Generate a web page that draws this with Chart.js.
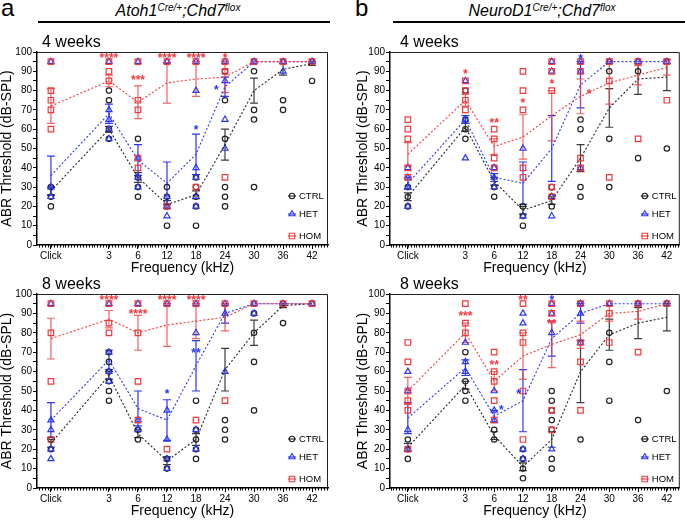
<!DOCTYPE html>
<html>
<head>
<meta charset="utf-8">
<script src="https://cdn.jsdelivr.net/npm/chart.js@4.4.0/dist/chart.umd.min.js"></script>
<style>
body { margin:0; width:685px; height:522px; background:#fff; position:relative; overflow:hidden; font-family:'Liberation Sans', Arial, sans-serif; }
canvas { position:absolute; }
.lbl { position:absolute; font-size:24px; line-height:24px; }
.ttl { position:absolute; width:300px; text-align:center; font-size:16px; line-height:16px; font-style:italic; white-space:nowrap; }
.ttl sup { font-size:10px; line-height:0; vertical-align:5px; }
.rule { position:absolute; height:1.5px; background:#000; }
</style>
</head>
<body>
<div class="lbl" style="left:1px;top:-4px">a</div>
<div class="ttl" style="left:28px;top:3px">Atoh1<sup>Cre/+</sup>;Chd7<sup>flox</sup></div>
<div class="rule" style="left:38px;top:21px;width:292px"></div>
<div class="lbl" style="left:355px;top:-4px">b</div>
<div class="ttl" style="left:392px;top:3px">NeuroD1<sup>Cre/+</sup>;Chd7<sup>flox</sup></div>
<div class="rule" style="left:393px;top:21px;width:292px"></div>

<canvas id="a4" width="340" height="247" style="left:0;top:30px"></canvas>
<canvas id="b4" width="329" height="247" style="left:356px;top:30px"></canvas>
<canvas id="a8" width="340" height="248" style="left:0;top:272px"></canvas>
<canvas id="b8" width="329" height="248" style="left:356px;top:272px"></canvas>

<script>
Chart.defaults.font.family = "'Liberation Sans', Arial, sans-serif";
Chart.defaults.color = '#000';

const freqs = ['Click', '3', '6', '12', '18', '24', '30', '36', '42'];
// axis slot of each frequency, slot 1 stays empty after Click
const slots = [0, 2, 3, 4, 5, 6, 7, 8, 9];

// a, 4 weeks
const a4Ctrl = [[30,25,20],[80,75,60,55],[55,35,30,25],[30,25,20,10],[35,30,25,20,10],[90,75,55,30,25,20],[95,90,70,65,30],[95,75,70],[95,85]];
const a4CtrlMean = [28, 60, 35, 21, 26, 52, 80, 91, 94];
const a4CtrlSem = [2, 1.5, 2.5, 2, 2, 8, 6.5, 3, 1];
const a4Het = [[95,30,25],[95,70,65,60,55],[95,45,35,30],[95,25,20,15],[95,80,40,35,25,20],[95,85,65,50],[95],[95,90],[95]];
const a4HetMean = [36, 68, 44, 32, 47, 82, 95, 95, 95];
const a4HetSem = [10, 5, 8, 11, 10.5, 5, 0, 0, 0];
const a4Hom = [[95,80,75,70,60],[95,90,85],[95,75,70,45,40],[95,20],[95,30],[95,90,35],[95],[95],[95]];
const a4HomMean = [72, 85, 74, 84, 86, 87, 95, 95, 95];
const a4HomSem = [9, 3, 8.5, 10.5, 9, 8, 0, 0, 0];
const a4Stars = [['3',98.5,'****','hom'],['6',87,'***','hom'],['12',98.5,'****','hom'],['18',98.5,'****','hom'],['24',98.5,'*','hom'],['18',61,'*','het'],['24',82,'*','het',-0.3]];

// b, 4 weeks
const b4Ctrl = [[30,25,20],[80,65,60,55],[40,30,25],[20,15,10],[30,25,20],[65,60,30,25],[95,90,55,30],[95,90,45],[95,50]];
const b4CtrlMean = [25, 61, 33, 18, 23, 45, 71, 86, 87];
const b4CtrlSem = [2, 2, 2, 2, 2, 7, 10, 8, 7];
const b4Het = [[40,35,30,20],[85,65,45],[40,35,30],[50,15],[95,90,25,15],[95,90,40],[95],[95],[95]];
const b4HetMean = [32, 65, 35, 32, 50, 83, 95, 95, 95];
const b4HetSem = [3, 2, 2, 11, 17, 12, 0, 0, 0];
const b4Hom = [[65,60,55,40,35],[85,80,75,70],[60,55,45,40],[90,80,70,40,35],[95,90,80,30,25],[95,90,45,40],[95,85,35],[95,55],[95,75]];
const b4HomMean = [47, 75, 51, 56, 67, 77, 84, 88, 92];
const b4HomSem = [6, 3, 4, 11.5, 13, 9, 11, 5, 4];
const b4Stars = [['3',90,'*','hom'],['6',65,'**','hom'],['12',75,'*','hom'],['18',85,'*','hom'],['24',80,'*','hom',0.3],['24',98,'*','het']];

// a, 8 weeks
const a8Ctrl = [[25,20],[70,65,60,55,50,45],[30,25],[15,10],[45,30,25,20,15],[35,30,25],[95,90,80,65,40],[95,85],[95]];
const a8CtrlMean = [23, 58, 28, 14, 25, 61, 80, 94, 95];
const a8CtrlSem = [2, 2, 2, 2, 3, 11, 6.5, 1, 0];
const a8Het = [[95,35,30,20,15],[95,70,60,55],[95,35,30],[95,40,25,15,10],[95,80,30,20],[95,90,60],[95,90],[95],[95]];
const a8HetMean = [35, 66, 41, 35, 63, 90, 95, 95, 95];
const a8HetSem = [9, 5, 9, 10.5, 13, 5, 0, 0, 0];
const a8Hom = [[95,80,55,25],[95,85,80],[95,80,55,35],[95,20],[95,35],[95,45],[95],[95],[95]];
const a8HomMean = [77, 87, 80, 84, 86, 88, 95, 95, 95];
const a8HomSem = [10.5, 4.5, 9, 11, 9, 7, 0, 0, 0];
const a8Stars = [['3',98.5,'****','hom'],['6',91,'****','hom'],['12',98.5,'****','hom'],['18',98.5,'****','hom'],['12',50,'*','het'],['18',71,'**','het']];

// b, 8 weeks
const b8Ctrl = [[25,20,15],[70,55,50,45],[30,25],[20,15,10,5],[50,45,40,35,30,15,10],[95,25],[80,65,45],[95,35],[95,50]];
const b8CtrlMean = [21, 53, 27, 11, 25, 60, 79, 85, 88];
const b8CtrlSem = [2, 2, 2, 2, 4, 16, 8, 8, 7];
const b8Het = [[60,50,30,20],[75,65,60],[50,40,35],[90,85,20,15],[95,90,80,20],[95,90,75],[95],[95],[95]];
const b8HetMean = [36, 62, 37, 45, 77, 90, 95, 95, 95];
const b8HetSem = [8, 4, 3, 16, 9, 5, 0, 0, 0];
const b8Hom = [[75,65,50,45,40,20],[95,85,80],[70,60,55,45,35],[95,80,75,50,25],[95,90,40,30],[95,75,65,40],[95,90,75],[95,70],[95]];
const b8HomMean = [50, 80, 55, 68, 74, 79, 90, 91, 95];
const b8HomSem = [7, 5, 5, 12, 12, 7, 4, 4, 0];
const b8Stars = [['3',90,'***','hom'],['6',65,'**','hom'],['12',98.5,'**','hom'],['18',86,'**','hom'],['18',98.5,'*','het'],['6',42,'*','het',0.25],['12',50,'*','het',-0.15]];

const RED = '#f2383b', BLUE = '#2a36f4', BLACK = '#222';
const groups = {
  ctrl: { color: BLACK, bar: '#3c3c3c', style: 'circle', radius: 2.7, label: 'CTRL' },
  het: { color: BLUE, bar: BLUE, style: 'triangle', radius: 3.5, label: 'HET' },
  hom: { color: RED, bar: 'rgba(236,70,72,0.85)', style: 'rect', radius: 3.9, label: 'HOM' }
};

function pointsOf(list) {
  const out = [];
  list.forEach((vals, i) => vals.forEach(v => out.push({ x: slots[i], y: v })));
  return out;
}
function meansOf(list) {
  return list.map((v, i) => ({ x: slots[i], y: v }));
}

const deco = {
  id: 'deco',
  beforeDatasetsDraw(chart) {
    const { ctx, scales: { x, y } } = chart;
    ctx.save();
    ctx.lineWidth = 1.2;
    chart.data.datasets.forEach(ds => {
      if (!ds.errors) return;
      ctx.strokeStyle = ds.barColor;
      ds.data.forEach((pt, i) => {
        const e = ds.errors[i];
        if (!e) return;
        const px = x.getPixelForValue(pt.x);
        const y1 = y.getPixelForValue(Math.min(pt.y + e, 100));
        const y2 = y.getPixelForValue(pt.y - e);
        ctx.beginPath();
        ctx.moveTo(px, y1); ctx.lineTo(px, y2);
        ctx.moveTo(px - 4, y1); ctx.lineTo(px + 4, y1);
        ctx.moveTo(px - 4, y2); ctx.lineTo(px + 4, y2);
        ctx.stroke();
      });
    });
    ctx.restore();
  },
  afterDatasetsDraw(chart, args, opts) {
    const { ctx, scales: { x, y } } = chart;
    ctx.save();
    ctx.font = 'bold 12px "Liberation Sans", Arial, sans-serif';
    ctx.textAlign = 'center';
    ctx.textBaseline = 'alphabetic';
    opts.stars.forEach(s => {
      const px = x.getPixelForValue(slots[freqs.indexOf(s[0])] + (s[4] || 0));
      const py = y.getPixelForValue(s[1]);
      ctx.fillStyle = groups[s[3]].color;
      ctx.fillText(s[2], px, py + 7);
    });
    ctx.restore();
  },
  afterDraw(chart, args, opts) {
    const { ctx, chartArea: a, scales: { x } } = chart;
    ctx.save();
    // frame
    ctx.strokeStyle = '#222';
    ctx.lineWidth = 1;
    ctx.beginPath();
    ctx.moveTo(a.left, a.top + 0.5); ctx.lineTo(a.right - 0.5, a.top + 0.5); ctx.lineTo(a.right - 0.5, a.bottom);
    ctx.stroke();
    // minor ticks along the x axis
    ctx.strokeStyle = '#000';
    ctx.beginPath();
    for (let v = Math.ceil(x.min * 10) / 10; v <= x.max; v += 0.1) {
      const px = Math.round(x.getPixelForValue(v)) + 0.5;
      ctx.moveTo(px, a.bottom); ctx.lineTo(px, a.bottom + 2.5);
    }
    ctx.stroke();
    // panel heading
    ctx.fillStyle = '#000';
    ctx.font = '16px "Liberation Sans", Arial, sans-serif';
    ctx.textAlign = 'left';
    ctx.fillText(opts.weeks, a.left + opts.weeksDx, a.top - 5);
    // legend
    ctx.font = '9.5px "Liberation Sans", Arial, sans-serif';
    ctx.textBaseline = 'middle';
    [['ctrl', 49], ['het', 31], ['hom', 9]].forEach(([g, up]) => {
      const st = groups[g];
      const mx = a.right - opts.legendDx, my = a.bottom - up;
      ctx.strokeStyle = st.color;
      ctx.lineWidth = 1.1;
      ctx.beginPath(); ctx.moveTo(mx - 4, my); ctx.lineTo(mx + 4, my); ctx.stroke();
      ctx.fillStyle = 'rgba(0,0,0,0)';
      Chart.helpers.drawPoint(ctx, { pointStyle: st.style, radius: st.radius, borderWidth: 1.2, rotation: 0 }, mx, my);
      ctx.fillStyle = '#000';
      ctx.fillText(st.label, mx + 7, my + 0.5);
    });
    ctx.restore();
  }
};

function makeChart(id, p) {
  const sets = [];
  ['ctrl', 'het', 'hom'].forEach((g, k) => {
    const st = groups[g];
    sets.push({
      label: st.label, data: pointsOf(p[g]), showLine: false,
      pointStyle: st.style, pointRadius: st.radius, pointBorderWidth: 1.2,
      pointBorderColor: st.color, pointBackgroundColor: 'rgba(0,0,0,0)', order: 6 - k
    });
    sets.push({
      label: st.label + ' mean', data: meansOf(p[g + 'Mean']), errors: p[g + 'Sem'], barColor: st.bar,
      showLine: true, borderColor: st.color, borderWidth: 1.1, borderDash: [2, 2],
      pointRadius: 0, order: 3 - k
    });
  });

  return new Chart(document.getElementById(id), {
    type: 'scatter',
    data: { datasets: sets },
    plugins: [deco],
    options: {
      responsive: false,
      animation: false,
      events: [],
      layout: { padding: { top: 22, right: p.padRight, bottom: 0, left: 0 } },
      plugins: {
        legend: { display: false },
        tooltip: { enabled: false },
        deco: { weeks: p.weeks, weeksDx: p.weeksDx, legendDx: p.legendDx, stars: p.stars }
      },
      scales: {
        x: {
          type: 'linear', min: p.xMin, max: p.xMax,
          afterBuildTicks: s => { s.ticks = slots.map(v => ({ value: v })); },
          afterFit: s => { s.height = 32; },
          ticks: { autoSkip: false, maxRotation: 0, padding: 1, font: { size: 10 }, callback: v => freqs[slots.indexOf(v)] },
          grid: { drawOnChartArea: false, tickLength: 4, color: '#000' },
          border: { color: '#000', width: 1.5 },
          title: { display: true, text: 'Frequency (kHz)', font: { size: 14, lineHeight: 1.2 }, padding: { top: 0, bottom: 0 } }
        },
        y: {
          min: 0, max: 100,
          afterFit: s => { s.width = p.yWidth; },
          ticks: { stepSize: 5, autoSkip: false, padding: 1, font: { size: 10 }, callback: v => (v % 10 === 0 ? v : '') },
          grid: { drawOnChartArea: false, tickLength: 4, color: '#000' },
          border: { color: '#000', width: 1.5 },
          title: { display: true, text: 'ABR Threshold (dB-SPL)', font: { size: 14, lineHeight: 1 }, padding: 0 }
        }
      }
    }
  });
}

const leftPanel = { padRight: 12, yWidth: 37, xMin: -0.48, xMax: 9.55, weeksDx: 5, legendDx: 36 };
const rightPanel = { padRight: 2, yWidth: 34, xMin: -0.62, xMax: 9.45, weeksDx: 10, legendDx: 35 };

makeChart('a4', Object.assign({}, leftPanel, { weeks: '4 weeks', stars: a4Stars,
  ctrl: a4Ctrl, ctrlMean: a4CtrlMean, ctrlSem: a4CtrlSem, het: a4Het, hetMean: a4HetMean, hetSem: a4HetSem,
  hom: a4Hom, homMean: a4HomMean, homSem: a4HomSem }));
makeChart('b4', Object.assign({}, rightPanel, { weeks: '4 weeks', stars: b4Stars,
  ctrl: b4Ctrl, ctrlMean: b4CtrlMean, ctrlSem: b4CtrlSem, het: b4Het, hetMean: b4HetMean, hetSem: b4HetSem,
  hom: b4Hom, homMean: b4HomMean, homSem: b4HomSem }));
makeChart('a8', Object.assign({}, leftPanel, { weeks: '8 weeks', stars: a8Stars,
  ctrl: a8Ctrl, ctrlMean: a8CtrlMean, ctrlSem: a8CtrlSem, het: a8Het, hetMean: a8HetMean, hetSem: a8HetSem,
  hom: a8Hom, homMean: a8HomMean, homSem: a8HomSem }));
makeChart('b8', Object.assign({}, rightPanel, { weeks: '8 weeks', stars: b8Stars,
  ctrl: b8Ctrl, ctrlMean: b8CtrlMean, ctrlSem: b8CtrlSem, het: b8Het, hetMean: b8HetMean, hetSem: b8HetSem,
  hom: b8Hom, homMean: b8HomMean, homSem: b8HomSem }));
</script>
</body>
</html>
